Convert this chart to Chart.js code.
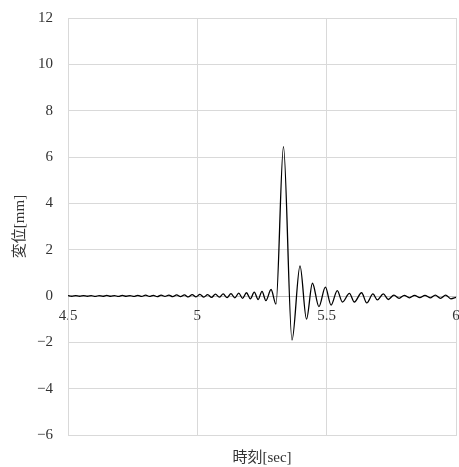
<!DOCTYPE html>
<html>
<head>
<meta charset="utf-8">
<script src="https://cdn.jsdelivr.net/npm/chart.js@4/dist/chart.umd.min.js"></script>
<style>
html,body{margin:0;padding:0;background:#fff;}
#wrap{width:459px;height:467px;}
</style>
</head>
<body>
<div id="wrap"><canvas id="c" width="459" height="467"></canvas></div>
<script>
// Time [sec]
const times = [
  4.500, 4.515, 4.530, 4.545, 4.560, 4.575, 4.590, 4.605, 4.620, 4.635,
  4.650, 4.665, 4.680, 4.695, 4.710, 4.725, 4.740, 4.755, 4.770, 4.785,
  4.800, 4.815, 4.830, 4.845, 4.860, 4.875, 4.890, 4.905, 4.920, 4.935,
  4.950, 4.965, 4.980, 4.995, 5.010, 5.025, 5.040, 5.055, 5.070, 5.085,
  5.100, 5.115, 5.130, 5.145, 5.160, 5.175, 5.190, 5.205, 5.220, 5.235,
  5.250, 5.265, 5.285, 5.304, 5.333, 5.366, 5.397, 5.422, 5.445, 5.470,
  5.495, 5.517, 5.541, 5.561, 5.588, 5.607, 5.635, 5.655, 5.679, 5.696,
  5.719, 5.738, 5.760, 5.780, 5.800, 5.820, 5.840, 5.860, 5.880, 5.900,
  5.920, 5.940, 5.960, 5.980, 6.000
];
// Displacement [mm]
const disp = [
  0.02, -0.01, 0.02, -0.01, 0.02, -0.01, 0.02, -0.02, 0.02, -0.01,
  0.03, -0.01, 0.02, -0.02, 0.03, -0.01, 0.02, -0.02, 0.03, -0.02,
  0.04, -0.02, 0.03, -0.03, 0.04, -0.02, 0.04, -0.03, 0.05, -0.03,
  0.05, -0.04, 0.06, -0.04, 0.07, -0.05, 0.06, -0.06, 0.08, -0.05,
  0.09, -0.07, 0.10, -0.08, 0.12, -0.10, 0.14, -0.12, 0.17, -0.15,
  0.20, -0.20, 0.28, -0.35, 6.45, -1.90, 1.30, -1.00, 0.55, -0.46,
  0.38, -0.39, 0.23, -0.26, 0.11, -0.26, 0.14, -0.30, 0.09, -0.17,
  0.09, -0.15, 0.04, -0.10, 0.03, -0.08, 0.03, -0.07, 0.03, -0.08,
  0.04, -0.10, 0.04, -0.12, -0.06
];
const xTicks = [4.5, 5, 5.5, 6];
const yTicks = [-6, -4, -2, 0, 2, 4, 6, 8, 10, 12];
const xTitle = '時刻[sec]';
const yTitle = '変位[mm]';

const FONT = "'Liberation Serif', 'Noto Sans CJK JP', serif";
const points = times.map((t, i) => ({x: t, y: disp[i]}));

function noPad(s) { s.paddingLeft = 0; s.paddingRight = 0; s.paddingTop = 0; s.paddingBottom = 0; }

new Chart(document.getElementById('c'), {
  type: 'line',
  data: {
    datasets: [{
      data: points,
      borderColor: '#000',
      borderWidth: 1.3,
      pointRadius: 0,
      fill: false,
      cubicInterpolationMode: 'monotone',
      xAxisID: 'x',
      yAxisID: 'y'
    }]
  },
  options: {
    responsive: false,
    animation: false,
    layout: {padding: {top: 18, right: 3, left: 0, bottom: 0}},
    plugins: {legend: {display: false}, tooltip: {enabled: false}},
    scales: {
      x: {
        type: 'linear', position: 'bottom',
        min: xTicks[0], max: xTicks[xTicks.length - 1],
        afterBuildTicks: s => { s.ticks = xTicks.map(v => ({value: v})); },
        grid: {color: '#d9d9d9', drawTicks: false, lineWidth: 1},
        border: {display: true, color: '#d9d9d9'},
        ticks: {display: false},
        title: {display: true, text: xTitle, color: '#333', font: {family: FONT, size: 15}, padding: {top: 4, bottom: 0}},
        afterFit: s => { s.height = 32; noPad(s); }
      },
      x0: {
        type: 'linear', position: {y: 0},
        min: xTicks[0], max: xTicks[xTicks.length - 1],
        afterBuildTicks: s => { s.ticks = xTicks.map(v => ({value: v})); },
        grid: {display: false, drawTicks: false},
        border: {display: true, color: '#bfbfbf', width: 1},
        ticks: {color: '#333', font: {family: FONT, size: 15}, padding: 11, maxRotation: 0, autoSkip: false,
          callback: v => String(v)},
        afterFit: s => { noPad(s); }
      },
      y: {
        type: 'linear', position: 'left',
        min: yTicks[0], max: yTicks[yTicks.length - 1],
        afterBuildTicks: s => { s.ticks = yTicks.map(v => ({value: v})); },
        grid: {color: '#d9d9d9', drawTicks: false, lineWidth: 1},
        border: {display: true, color: '#d9d9d9'},
        ticks: {color: '#333', font: {family: FONT, size: 15}, padding: 15,
          callback: v => (v < 0 ? '\u2212' + Math.abs(v) : String(v))},
        title: {display: true, text: yTitle, color: '#333', font: {family: FONT, size: 15}, padding: {top: 11, bottom: 0}},
        afterFit: s => { s.width = 68; noPad(s); }
      }
    }
  }
});
</script>
</body>
</html>
